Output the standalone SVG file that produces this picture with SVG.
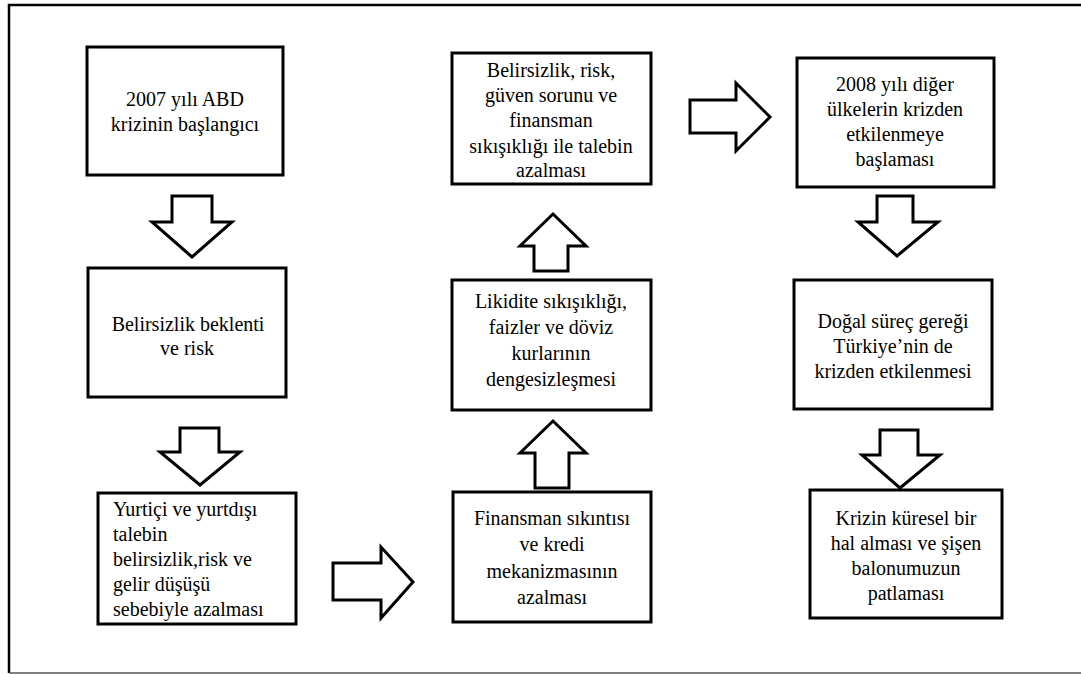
<svg xmlns="http://www.w3.org/2000/svg" width="1081" height="675" viewBox="0 0 1081 675">
<style>
.box{fill:#fff;stroke:#000;stroke-width:3}
.arr{fill:#fff;stroke:#000;stroke-width:3}
.c{text-anchor:middle}
</style>
<rect width="1081" height="675" fill="#fff"/>
<path d="M9,673 L9,5 L1090,5" fill="none" stroke="#000" stroke-width="2.5"/>
<line x1="9" y1="673" x2="1090" y2="673" stroke="#555" stroke-width="1.5"/>
<g id="connectors">
<path class="arr" d="M172,196 L212,196 L212,222 L232,222 L192,257 L152,222 L172,222 Z"/>
<path class="arr" d="M180,428 L219,428 L219,452 L240,452 L200,485 L160,452 L180,452 Z"/>
<path class="arr" d="M333,563 L381,563 L381,547 L413,582 L381,618 L381,600 L333,600 Z"/>
<path class="arr" d="M535,488 L569,488 L569,453 L586,453 L553,421 L520,453 L535,453 Z"/>
<path class="arr" d="M534,271 L568,271 L568,246 L586,246 L553,214 L520,246 L534,246 Z"/>
<path class="arr" d="M690,100 L736,100 L736,83 L770,117 L736,151 L736,133 L690,133 Z"/>
<path class="arr" d="M877,196 L913,196 L913,222 L938,222 L897,256 L858,222 L877,222 Z"/>
<path class="arr" d="M880,430 L918,430 L918,455 L940,455 L900,488 L862,455 L880,455 Z"/>
</g>
<g id="n1"><rect class="box" x="87" y="47" width="196" height="128"/>
<text class="c" x="185" y="106" font-size="20" font-family="'Liberation Serif'">2007 yılı ABD</text>
<text class="c" x="185" y="131" font-size="20" font-family="'Liberation Serif'">krizinin  başlangıcı</text></g>
<g id="n2"><rect class="box" x="88" y="268" width="198" height="129"/>
<text class="c" x="188" y="331" font-size="20" font-family="'Liberation Serif'">Belirsizlik beklenti</text>
<text class="c" x="187" y="355" font-size="20" font-family="'Liberation Serif'">ve risk</text></g>
<g id="n3"><rect class="box" x="98" y="493" width="198" height="131"/>
<text x="113" y="516" font-size="20" font-family="'Liberation Serif'">Yurtiçi ve yurtdışı</text>
<text x="113" y="541" font-size="20" font-family="'Liberation Serif'">talebin</text>
<text x="113" y="566" font-size="20" font-family="'Liberation Serif'">belirsizlik,risk ve</text>
<text x="113" y="591" font-size="20" font-family="'Liberation Serif'">gelir düşüşü</text>
<text x="113" y="616" font-size="20" font-family="'Liberation Serif'">sebebiyle azalması</text></g>
<g id="n4"><rect class="box" x="452" y="53" width="199" height="131"/>
<text class="c" x="551" y="77" font-size="20" font-family="'Liberation Serif'">Belirsizlik,  risk,</text>
<text class="c" x="551" y="102" font-size="20" font-family="'Liberation Serif'">güven sorunu  ve</text>
<text class="c" x="551" y="127" font-size="20" font-family="'Liberation Serif'">finansman</text>
<text class="c" x="551" y="153" font-size="20" font-family="'Liberation Serif'">sıkışıklığı ile talebin</text>
<text class="c" x="551" y="177" font-size="20" font-family="'Liberation Serif'">azalması</text></g>
<g id="n5"><rect class="box" x="452" y="280" width="199" height="130"/>
<text class="c" x="551" y="308" font-size="20" font-family="'Liberation Serif'">Likidite  sıkışıklığı,</text>
<text class="c" x="551" y="334" font-size="20" font-family="'Liberation Serif'">faizler ve döviz</text>
<text class="c" x="551" y="360" font-size="20" font-family="'Liberation Serif'">kurlarının</text>
<text class="c" x="551" y="386" font-size="20" font-family="'Liberation Serif'">dengesizleşmesi</text></g>
<g id="n6"><rect class="box" x="453" y="492" width="198" height="130"/>
<text class="c" x="552" y="525" font-size="20" font-family="'Liberation Serif'">Finansman sıkıntısı</text>
<text class="c" x="552" y="551" font-size="20" font-family="'Liberation Serif'">ve kredi</text>
<text class="c" x="552" y="578" font-size="20" font-family="'Liberation Serif'">mekanizmasının</text>
<text class="c" x="552" y="604" font-size="20" font-family="'Liberation Serif'">azalması</text></g>
<g id="n7"><rect class="box" x="797" y="58" width="197" height="129"/>
<text class="c" x="895" y="91" font-size="20" font-family="'Liberation Serif'">2008 yılı diğer</text>
<text class="c" x="895" y="116" font-size="20" font-family="'Liberation Serif'">ülkelerin krizden</text>
<text class="c" x="895" y="141" font-size="20" font-family="'Liberation Serif'">etkilenmeye</text>
<text class="c" x="895" y="166" font-size="20" font-family="'Liberation Serif'">başlaması</text></g>
<g id="n8"><rect class="box" x="794" y="280" width="198" height="129"/>
<text class="c" x="893" y="328" font-size="20" font-family="'Liberation Serif'">Doğal süreç gereği</text>
<text class="c" x="893" y="353" font-size="20" font-family="'Liberation Serif'">Türkiye’nin de</text>
<text class="c" x="893" y="378" font-size="20" font-family="'Liberation Serif'">krizden etkilenmesi</text></g>
<g id="n9"><rect class="box" x="810" y="490" width="192" height="128"/>
<text class="c" x="906" y="525" font-size="20" font-family="'Liberation Serif'">Krizin küresel bir</text>
<text class="c" x="906" y="550" font-size="20" font-family="'Liberation Serif'">hal alması ve şişen</text>
<text class="c" x="906" y="575" font-size="20" font-family="'Liberation Serif'">balonumuzun</text>
<text class="c" x="906" y="600" font-size="20" font-family="'Liberation Serif'">patlaması</text></g>
</svg>
